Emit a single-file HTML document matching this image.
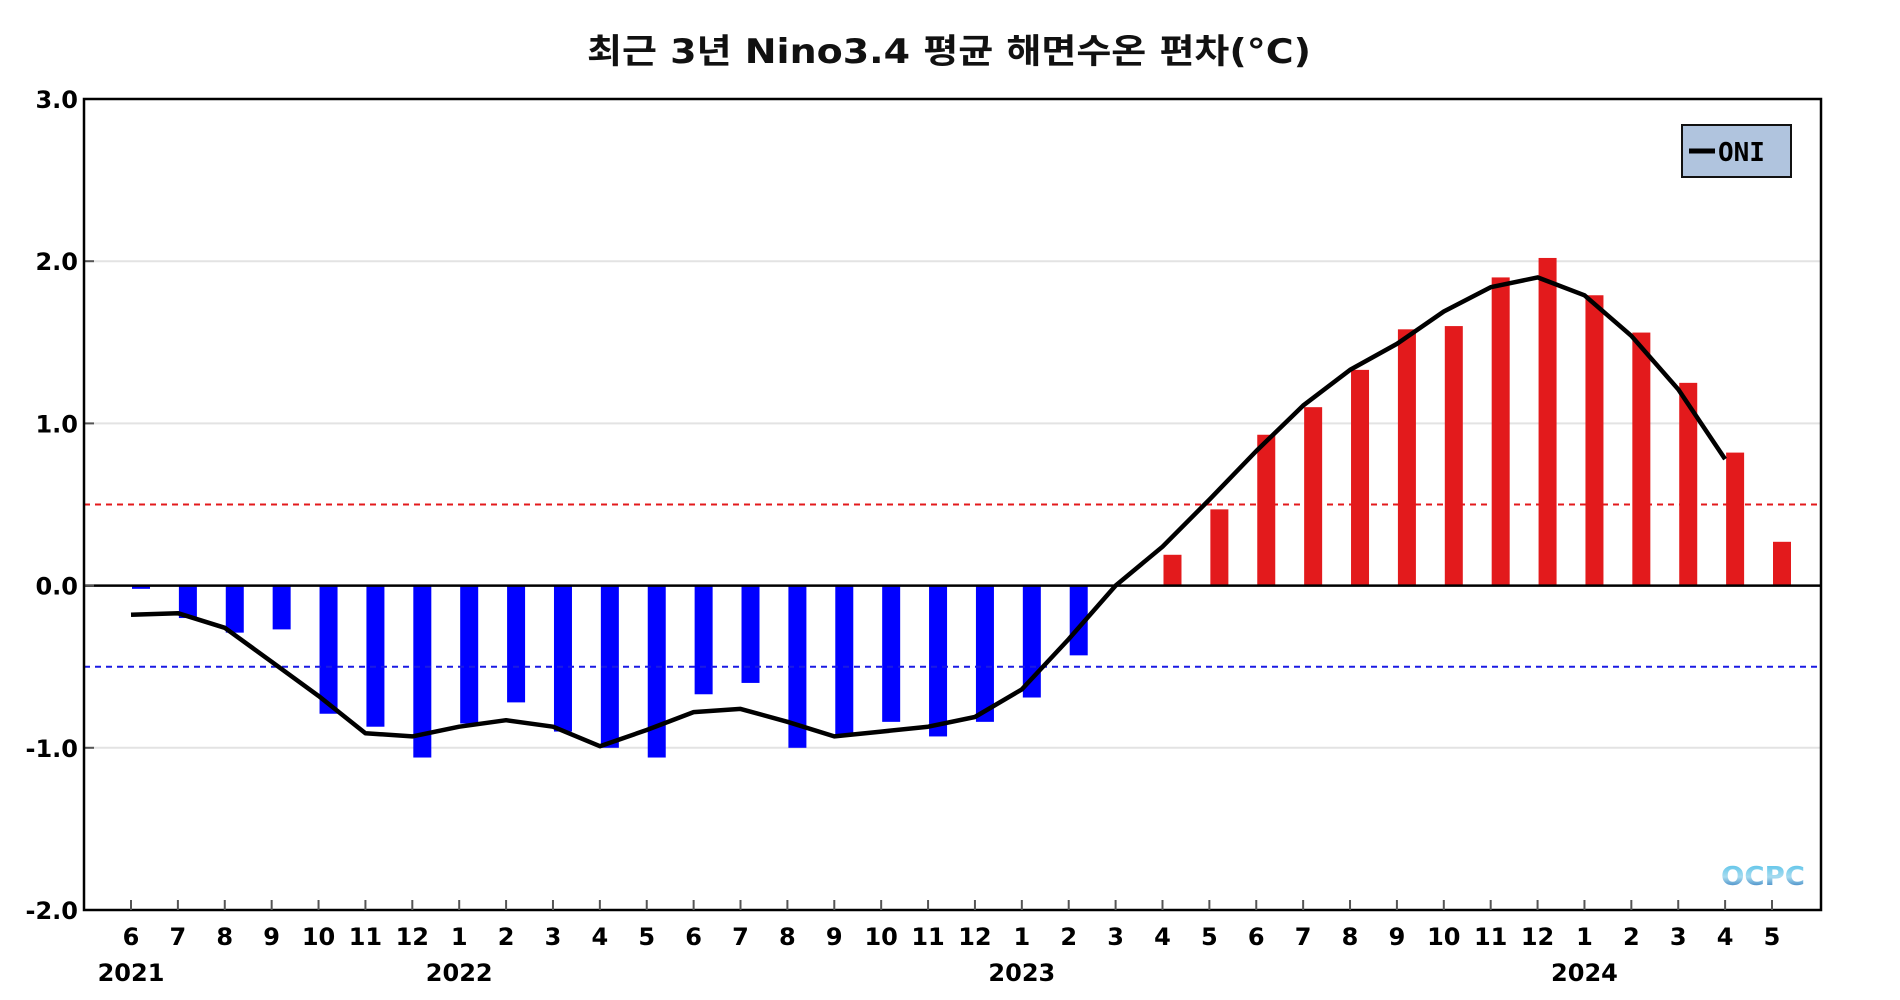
<!DOCTYPE html>
<html><head><meta charset="utf-8">
<style>
html,body{margin:0;padding:0;background:#fff;}
svg{display:block;font-family:"DejaVu Sans","Noto Sans CJK KR",sans-serif;}
</style></head>
<body>
<svg id="chart" width="1900" height="1000" viewBox="0 0 1900 1000">
<defs><linearGradient id="og" x1="0" y1="0" x2="0" y2="1"><stop offset="0" stop-color="#4fc0e8"/><stop offset="0.5" stop-color="#a8dcf0"/><stop offset="1" stop-color="#1060b0"/></linearGradient></defs>
<text x="949" y="63" text-anchor="middle" font-size="34" font-weight="bold" fill="#111" textLength="724" lengthAdjust="spacingAndGlyphs" font-family="'DejaVu Sans','Noto Sans CJK KR',sans-serif">최근 3년 Nino3.4 평균 해면수온 편차(°C)</text>
<g id="grid"></g>
<g id="bars"></g>
<g id="refs"></g>
<g id="line"></g>
<g id="axes"></g>
<g>
<rect x="1682" y="125" width="109" height="52" fill="#b0c4de" stroke="#111" stroke-width="2"/>
<line x1="1689" y1="151" x2="1715" y2="151" stroke="#000" stroke-width="5"/>
<text x="1718" y="161" font-size="26" font-weight="bold" font-family="'DejaVu Sans Mono','Liberation Mono',monospace">ONI</text>
</g>
<text x="1763" y="885" text-anchor="middle" font-size="26" font-weight="bold" fill="url(#og)" textLength="84" lengthAdjust="spacingAndGlyphs">OCPC</text>
</svg>
<script>
const monthLabels = ["6","7","8","9","10","11","12","1","2","3","4","5","6","7","8","9","10","11","12","1","2","3","4","5","6","7","8","9","10","11","12","1","2","3","4","5"];
const yearLabels = [["2021",0],["2022",7],["2023",19],["2024",31]];
const anomalyValues = [-0.02,-0.2,-0.29,-0.27,-0.79,-0.87,-1.06,-0.85,-0.72,-0.9,-1.0,-1.06,-0.67,-0.6,-1.0,-0.92,-0.84,-0.93,-0.84,-0.69,-0.43,0.0,0.19,0.47,0.93,1.1,1.33,1.58,1.6,1.9,2.02,1.79,1.56,1.25,0.82,0.27];
const oniValues = [-0.18,-0.17,-0.26,-0.47,-0.68,-0.91,-0.93,-0.87,-0.83,-0.87,-0.99,-0.89,-0.78,-0.76,-0.84,-0.93,-0.90,-0.87,-0.81,-0.64,-0.33,0.0,0.24,0.53,0.83,1.11,1.33,1.49,1.69,1.84,1.90,1.79,1.54,1.21,0.78];
const yTicks = [3,2,1,0,-1,-2];
const yTickLabels = ["3.0","2.0","1.0","0.0","-1.0","-2.0"];

const L=84,R=1821,T=99,B=910,YMAX=3,YMIN=-2;
const x0=131,dx=(1772-131)/35;
function xs(i){return x0+i*dx;}
function ys(v){return T+(YMAX-v)/(YMAX-YMIN)*(B-T);}
const NS="http://www.w3.org/2000/svg";
function mk(tag,attrs,parent){const e=document.createElementNS(NS,tag);for(const k in attrs)e.setAttribute(k,attrs[k]);parent.appendChild(e);return e;}
const grid=document.getElementById('grid'),bars=document.getElementById('bars'),refs=document.getElementById('refs'),lineG=document.getElementById('line'),axes=document.getElementById('axes');

yTicks.forEach((v,i)=>{
  if(v!==0&&v!==3&&v!==-2){
    const g=mk('line',{x1:L,x2:R,y1:ys(v),y2:ys(v),stroke:'#e3e3e3','stroke-width':2},grid);
    
    
  }
  const tk=mk('line',{x1:L,x2:L+10,y1:ys(v),y2:ys(v),stroke:'#555','stroke-width':2},axes);
  
  
  const t=mk('text',{x:L-6,y:ys(v)+9,'text-anchor':'end','font-size':24,'font-weight':'bold'},axes);
  t.textContent=yTickLabels[i];
  
  
});

anomalyValues.forEach((v,i)=>{
  if(v===0)return;
  const y1=ys(Math.max(v,0)),y2=ys(Math.min(v,0));
  const r=mk('rect',{x:xs(i)+1,y:y1,width:18,height:y2-y1,fill:v<0?'#0000ff':'#e31a1c'},bars);
  
  
});

[[0.5,'#e31a1c'],[-0.5,'#1a1ae3']].forEach(([v,c])=>{
  const d=mk('line',{x1:L,x2:R,y1:ys(v),y2:ys(v),stroke:c,'stroke-width':2,'stroke-dasharray':'6,5'},refs);
  
  
});
const z=mk('line',{x1:L,x2:R,y1:ys(0),y2:ys(0),stroke:'#000','stroke-width':2.5},refs);



const pts=oniValues.map((v,i)=>xs(i).toFixed(1)+','+ys(v).toFixed(1)).join(' ');
const pl=mk('polyline',{points:pts,fill:'none',stroke:'#000','stroke-width':4.5,'stroke-linejoin':'round'},lineG);



const fr=mk('rect',{x:L,y:T,width:R-L,height:B-T,fill:'none',stroke:'#000','stroke-width':2.5},axes);



monthLabels.forEach((m,i)=>{
  const tk=mk('line',{x1:xs(i),x2:xs(i),y1:B,y2:B-10,stroke:'#555','stroke-width':2},axes);
  
  
  const t=mk('text',{x:xs(i),y:945,'text-anchor':'middle','font-size':24,'font-weight':'bold'},axes);
  t.textContent=m;
  
  
});
yearLabels.forEach(([y,i])=>{
  const t=mk('text',{x:xs(i),y:981,'text-anchor':'middle','font-size':24,'font-weight':'bold'},axes);
  t.textContent=y;
  
  
});
</script>
</body></html>
